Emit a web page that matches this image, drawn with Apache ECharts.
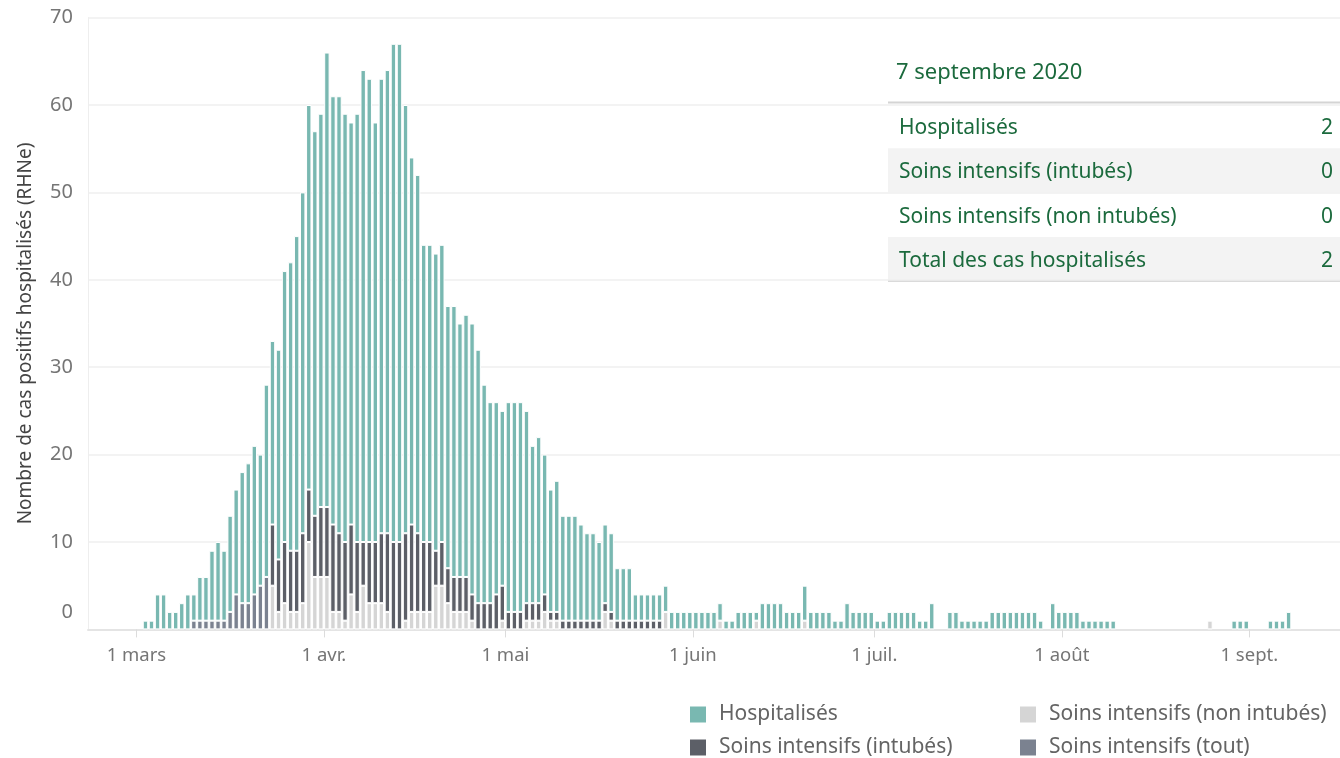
<!DOCTYPE html>
<html>
<head>
<meta charset="utf-8">
<script src="https://cdn.jsdelivr.net/npm/echarts@6/dist/echarts.min.js"></script>
<style>
html,body{margin:0;padding:0;background:#ffffff;}
#chart{width:1340px;height:758px;}
</style>
</head>
<body>
<div id="chart"></div>
<script>
// ---- Data (daily counts from 2 March 2020 to 7 September 2020) ----
const axisStart = '2020-02-22';
const axisDays = 207;
const dataStart = '2020-03-02';
const monthNames = {'03':'mars','04':'avr.','05':'mai','06':'juin','07':'juil.','08':'août','09':'sept.'};
const tooltipDate = '7 septembre 2020';

const hospitalises = [
 1,1,4,4,2,2,3,4,3,5,
 5,8,9,8,11,12,15,16,17,15,
 22,21,24,31,33,36,39,44,44,45,
 52,49,50,49,46,49,54,53,48,52,
 53,57,57,49,42,41,34,34,34,34,
 30,31,29,30,31,29,25,23,22,20,
 24,24,24,22,18,19,16,14,15,12,
 12,12,11,10,10,9,9,9,6,6,
 6,3,3,3,3,3,3,2,2,2,
 2,2,2,2,2,2,1,1,2,2,
 2,1,3,3,3,3,2,2,2,4,
 2,2,2,2,1,1,3,2,2,2,
 2,1,1,2,2,2,2,2,1,1,
 3,0,0,2,2,1,1,1,1,1,
 2,2,2,2,2,2,2,2,1,0,
 3,2,2,2,2,1,1,1,1,1,
 1,0,0,0,0,0,0,0,0,0,
 0,0,0,0,0,0,0,0,0,0,
 1,1,1,0,0,0,1,1,1,2
];
const siIntubes = [
 0,0,0,0,0,0,0,0,0,0,
 0,0,0,0,0,0,0,0,0,0,
 0,7,6,7,7,7,8,6,7,8,
 8,10,9,9,8,8,5,7,7,8,
 9,10,10,10,10,9,8,8,4,5,
 4,4,4,4,3,3,3,3,4,4,
 2,2,2,2,2,2,2,1,1,1,
 1,1,1,1,1,1,1,1,1,1,
 1,1,1,1,1,1,0,0,0,0,
 0,0,0,0,0,0,0,0,0,0,
 0,0,0,0,0,0,0,0,0,0,
 0,0,0,0,0,0,0,0,0,0,
 0,0,0,0,0,0,0,0,0,0,
 0,0,0,0,0,0,0,0,0,0,
 0,0,0,0,0,0,0,0,0,0,
 0,0,0,0,0,0,0,0,0,0,
 0,0,0,0,0,0,0,0,0,0,
 0,0,0,0,0,0,0,0,0,0,
 0,0,0,0,0,0,0,0,0,0
];
const siNonIntubes = [
 0,0,0,0,0,0,0,0,0,0,
 0,0,0,0,0,0,0,0,0,0,
 0,5,2,3,2,2,3,10,6,6,
 6,2,2,1,4,2,5,3,3,3,
 2,0,0,1,2,2,2,2,5,5,
 3,2,2,2,1,0,0,0,0,1,
 0,0,0,1,1,1,2,1,1,0,
 0,0,0,0,0,0,2,1,0,0,
 0,0,0,0,0,0,2,0,0,0,
 0,0,0,0,0,1,0,0,0,0,
 0,1,0,0,0,0,0,0,0,1,
 0,0,0,0,0,0,0,0,0,0,
 0,0,0,0,0,0,0,0,0,0,
 0,0,0,0,0,0,0,0,0,0,
 0,0,0,0,0,0,0,0,0,0,
 0,0,0,0,0,0,0,0,0,0,
 0,0,0,0,0,0,0,0,0,0,
 0,0,0,0,0,0,1,0,0,0,
 0,0,0,0,0,0,0,0,0,0
];
const siTout = [
 0,0,0,0,0,0,0,0,1,1,
 1,1,1,1,2,4,3,3,4,5,
 6,0,0,0,0,0,0,0,0,0
];

// ---- Build categories and padded series ----
const DAY = 86400000;
const p = axisStart.split('-').map(Number);
const t0 = Date.UTC(p[0], p[1]-1, p[2]);
const categories = [];
for (let i = 0; i < axisDays; i++) {
  categories.push(new Date(t0 + i*DAY).toISOString().slice(0,10));
}
const offset = categories.indexOf(dataStart);
function pad(arr){
  const out = new Array(axisDays).fill(null);
  arr.forEach((v,i) => { out[offset+i] = v > 0 ? v : null; });
  return out;
}
const isMonthStart = (i, v) => v.slice(8) === '01';

const last = hospitalises.length - 1;
const tooltipRows = [
  ['Hospitalisés', hospitalises[last]],
  ['Soins intensifs (intubés)', siIntubes[last]],
  ['Soins intensifs (non intubés)', siNonIntubes[last]],
  ['Total des cas hospitalisés', hospitalises[last] + siIntubes[last] + siNonIntubes[last] + (siTout[last] || 0)]
];

const FONT = 'Noto Sans';
const GREEN = '#1b6a3d';
const graphics = [];
graphics.push({type:'text', left:896, top:62, style:{text:tooltipDate, fontSize:22, fontFamily:FONT, fill:GREEN}});
graphics.push({type:'line', shape:{x1:888,y1:102.5,x2:1340,y2:102.5}, style:{stroke:'#d4d4d4', lineWidth:2}});
tooltipRows.forEach((r, k) => {
  const yTop = 104 + k*44.3;
  if (k % 2 === 1) {
    graphics.push({type:'rect', shape:{x:888, y:yTop, width:452, height:44.3}, style:{fill:'#f3f3f3'}});
  }
  graphics.push({type:'text', x:899, y:yTop+24, style:{text:r[0], fontSize:21, fontFamily:FONT, fill:GREEN, verticalAlign:'middle'}});
  graphics.push({type:'text', x:1333, y:yTop+24, style:{text:String(r[1]), fontSize:21, fontFamily:FONT, fill:GREEN, align:'right', verticalAlign:'middle'}});
});
graphics.push({type:'line', shape:{x1:888,y1:281,x2:1340,y2:281}, style:{stroke:'#cfcfcf', lineWidth:1.5}});

const barCommon = {
  type:'bar', stack:'total', barWidth:5.4,
  emphasis:{disabled:true}
};
const itemStyle = c => ({color:c, borderColor:'#ffffff', borderWidth:1});

const legendItems = [
  ['Hospitalisés', 688, 704],
  ['Soins intensifs (intubés)', 688, 737],
  ['Soins intensifs (non intubés)', 1018, 704],
  ['Soins intensifs (tout)', 1018, 737]
];
const legends = legendItems.map(it => ({
  data:[it[0]], left:it[1], top:it[2], padding:0,
  itemWidth:18, itemHeight:18, icon:'rect', selectedMode:false,
  textStyle:{fontSize:21, color:'#646464', fontFamily:FONT, lineHeight:18, padding:[0,0,0,7]}
}));

const option = {
  animation:false,
  backgroundColor:'#ffffff',
  textStyle:{fontFamily:FONT},
  grid:{left:88, right:0, top:17.6, bottom:128.6, containLabel:false, outerBoundsMode:'none'},
  xAxis:{
    type:'category', data:categories, boundaryGap:true,
    axisLine:{show:true, lineStyle:{color:'#e4e4e4', width:2}},
    axisTick:{show:true, interval:isMonthStart, length:8, lineStyle:{color:'#dcdcdc'}},
    axisLabel:{
      interval:isMonthStart, margin:17,
      formatter: v => '{a|1 ' + monthNames[v.slice(5,7)] + '}',
      rich:{a:{fontSize:18.5, color:'#757575', fontFamily:FONT, padding:[0,6,0,0]}}
    },
    splitLine:{show:false}
  },
  yAxis:{
    type:'value', min:0, max:70, interval:10,
    axisLine:{show:true, lineStyle:{color:'#eeeeee'}},
    axisTick:{show:false},
    splitLine:{show:true, lineStyle:{color:'#efefef', width:1.5}},
    axisLabel:{
      fontSize:20, color:'#757575', fontFamily:FONT, margin:15,
      formatter: v => v === 0 ? '{z|0}' : String(v),
      rich:{z:{fontSize:20, color:'#757575', fontFamily:FONT, padding:[0,0,34,0]}}
    },
    name:'Nombre de cas positifs hospitalisés (RHNe)',
    nameLocation:'middle', nameGap:53,
    nameTextStyle:{fontSize:19, color:'#444444', fontFamily:FONT, padding:[0,20,0,0]}
  },
  legend:legends,
  series:[
    Object.assign({}, barCommon, {name:'Soins intensifs (non intubés)', data:pad(siNonIntubes), itemStyle:itemStyle('#d5d5d5')}),
    Object.assign({}, barCommon, {name:'Soins intensifs (tout)', data:pad(siTout), itemStyle:itemStyle('#7b8290')}),
    Object.assign({}, barCommon, {name:'Soins intensifs (intubés)', data:pad(siIntubes), itemStyle:itemStyle('#5c5f67')}),
    Object.assign({}, barCommon, {name:'Hospitalisés', data:pad(hospitalises), itemStyle:itemStyle('#79b8b1')})
  ],
  graphic:graphics
};

const chart = echarts.init(document.getElementById('chart'), null, {renderer:'canvas'});
chart.setOption(option);
</script>
</body>
</html>
